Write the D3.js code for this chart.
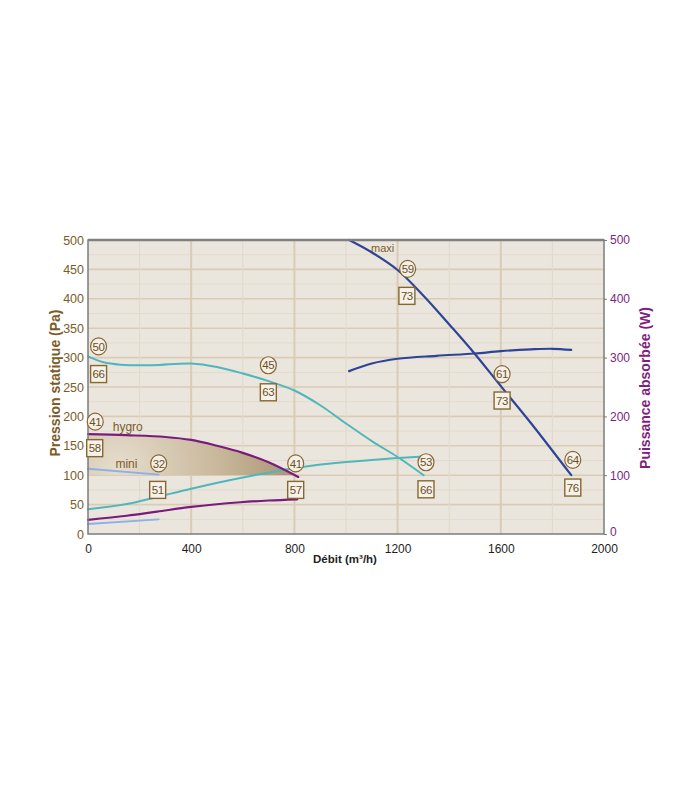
<!DOCTYPE html>
<html><head><meta charset="utf-8">
<script src="https://cdn.jsdelivr.net/npm/d3@7"></script>
<style>
html,body{margin:0;padding:0;background:#fff;}
svg text{font-family:"Liberation Sans",Arial,Helvetica,sans-serif;}
</style></head>
<body>
<div id="chart"></div>
<script>
// ---- Data ----
const debitTicks = [0, 400, 800, 1200, 1600, 2000];
const pressureTicks = [0, 50, 100, 150, 200, 250, 300, 350, 400, 450, 500];
const powerTicks = [0, 100, 200, 300, 400, 500];

// maxi
const maxiPressureX = [1012, 1096, 1200, 1303, 1407, 1498, 1601, 1718, 1873];
const maxiPressureY = [500, 480, 449, 404, 353, 307, 251, 188, 100];
const maxiPowerX = [1012, 1100, 1200, 1350, 1498, 1600, 1718, 1800, 1873];
const maxiPowerY = [277, 290, 298, 303, 307, 311, 314, 315, 313];

// medium (teal)
const tealPressureX = [0, 60, 125, 250, 400, 500, 600, 700, 800, 900, 1000, 1100, 1200, 1301];
const tealPressureY = [302, 292, 288, 287, 290, 284, 273, 260, 244, 219, 188, 158, 131, 100];
const tealPowerX = [0, 150, 268, 400, 600, 799, 941, 1100, 1301];
const tealPowerY = [42, 51, 63, 77, 96, 112, 120, 126, 132];

// hygro (purple)
const hygroPressureX = [0, 150, 300, 400, 500, 600, 700, 815];
const hygroPressureY = [170, 168, 165, 160, 150, 138, 122, 97];
const hygroPowerX = [0, 150, 268, 400, 591, 700, 811];
const hygroPowerY = [24, 31, 38, 46, 54, 57, 59];

// mini (light blue)
const miniPressureX = [0, 274];
const miniPressureY = [111, 101];
const miniPowerX = [0, 274];
const miniPowerY = [17, 25];

// annotations: value, kind, anchor (debit, pressure)
const annotValues = ["50", "66", "45", "63", "41", "58", "32", "51", "41", "57", "59", "73", "61", "73", "53", "66", "64", "76"];
const annotKinds  = ["c", "b", "c", "b", "c", "b", "c", "b", "c", "b", "c", "b", "c", "b", "c", "b", "c", "b"];
const annotX = [41, 41, 699, 699, 28, 26, 274, 270, 805, 805, 1239, 1236, 1605, 1605, 1310, 1310, 1879, 1879];
const annotY = [319, 272, 287, 241, 191, 146, 120, 75, 120, 75, 451, 405, 272, 227, 122, 76, 126, 79];
const curveNames = ["hygro", "mini", "maxi"];
const curveNameX = [154, 149, 1142];
const curveNameY = [182, 119, 486];

// ---- Layout ----
const W = 700, H = 800;
const L = 88, R = 604, T = 240, B = 534;
const svg = d3.select("#chart").append("svg").attr("width", W).attr("height", H);

const x = d3.scaleLinear().domain([0, 2000]).range([L, R]);
const y = d3.scaleLinear().domain([0, 500]).range([B, T]);
const yP = d3.scaleLinear().domain([0, 500]).range([B, T]);

const brown = "#7a5c28", purple = "#7e1f7e";

// background
svg.append("rect").attr("x", L).attr("y", T).attr("width", R - L).attr("height", B - T).attr("fill", "#ebe6dd");

// grid
const g = svg.append("g");
d3.range(25, 500, 25).forEach(v => {
  const major = v % 50 === 0;
  g.append("line").attr("x1", L).attr("x2", R).attr("y1", y(v)).attr("y2", y(v))
    .attr("stroke", major ? "#d9cbb6" : "#e3dacd").attr("stroke-width", major ? 1.6 : 1);
});
d3.range(200, 2000, 200).forEach(v => {
  const major = v % 400 === 0;
  g.append("line").attr("y1", T).attr("y2", B).attr("x1", x(v)).attr("x2", x(v))
    .attr("stroke", major ? "#d9cbb6" : "#e3dacd").attr("stroke-width", major ? 2 : 1.2);
});

// gradient fill for hygro zone
const defs = svg.append("defs");
const rg = defs.append("radialGradient").attr("id", "zone").attr("gradientUnits", "userSpaceOnUse")
  .attr("cx", x(120)).attr("cy", y(112)).attr("r", 230).attr("fx", x(120)).attr("fy", y(112));
rg.append("stop").attr("offset", 0).attr("stop-color", "#e6ddcd");
rg.append("stop").attr("offset", 0.45).attr("stop-color", "#c7b699");
rg.append("stop").attr("offset", 1).attr("stop-color", "#957b59");
defs.append("clipPath").attr("id", "above100").append("rect")
  .attr("x", L).attr("y", T).attr("width", R - L).attr("height", y(100) - T);

const zip = (xs, ys) => xs.map((v, i) => [v, ys[i]]);
const curve = d3.curveCatmullRom.alpha(0.5);
const hygroP = zip(hygroPressureX, hygroPressureY);
svg.append("path").attr("clip-path", "url(#above100)")
  .attr("d", d3.area().x(d => x(d[0])).y0(y(100)).y1(d => y(d[1])).curve(curve)(hygroP))
  .attr("fill", "url(#zone)");

// lines
const line = d3.line().x(d => x(d[0])).y(d => y(d[1])).curve(curve);
const lineP = d3.line().x(d => x(d[0])).y(d => yP(d[1])).curve(curve);
const series = [
  {d: zip(miniPressureX, miniPressureY), gen: line, c: "#8db0e6", w: 1.8},
  {d: zip(miniPowerX, miniPowerY), gen: lineP, c: "#8db0e6", w: 1.8},
  {d: zip(tealPressureX, tealPressureY), gen: line, c: "#4fb6bb", w: 2},
  {d: zip(tealPowerX, tealPowerY), gen: lineP, c: "#4fb6bb", w: 2},
  {d: hygroP, gen: line, c: "#7a1b7e", w: 2.2},
  {d: zip(hygroPowerX, hygroPowerY), gen: lineP, c: "#7a1b7e", w: 2.2},
  {d: zip(maxiPressureX, maxiPressureY), gen: line, c: "#2e4597", w: 2.2},
  {d: zip(maxiPowerX, maxiPowerY), gen: lineP, c: "#2e4597", w: 2.2},
];
series.forEach(s => svg.append("path").attr("d", s.gen(s.d)).attr("fill", "none")
  .attr("stroke", s.c).attr("stroke-width", s.w).attr("stroke-linecap", "round"));

// frame
svg.append("rect").attr("x", L).attr("y", T).attr("width", R - L).attr("height", B - T)
  .attr("fill", "none").attr("stroke", "#7c7c7c").attr("stroke-width", 1.5);
svg.append("line").attr("x1", L).attr("x2", R).attr("y1", T).attr("y2", T).attr("stroke", "#808080").attr("stroke-width", 2.5);

// annotations
annotValues.forEach((v, i) => {
  const cx = x(annotX[i]), cy = y(annotY[i]);
  const a = svg.append("g");
  if (annotKinds[i] === "c") {
    a.append("ellipse").attr("cx", cx).attr("cy", cy).attr("rx", 8).attr("ry", 8.5)
      .attr("fill", "#f4f0e9").attr("stroke", "#86682f").attr("stroke-width", 1.2);
  } else {
    a.append("rect").attr("x", cx - 8).attr("y", cy - 8.5).attr("width", 16).attr("height", 17)
      .attr("fill", "#f6f2eb").attr("stroke", "#86682f").attr("stroke-width", 1.4);
  }
  a.append("text").attr("x", cx).attr("y", cy + 4.2).attr("text-anchor", "middle")
    .attr("font-size", 11.5).attr("fill", "#6b5021").attr("letter-spacing", -0.4).text(v);
});
curveNames.forEach((n, i) => {
  svg.append("text").attr("x", x(curveNameX[i])).attr("y", y(curveNameY[i]) + 4)
    .attr("text-anchor", "middle").attr("font-size", n === "maxi" ? 11 : 12)
    .attr("fill", "#7a5c28").text(n);
});

// axes
const axB = svg.append("g").attr("transform", `translate(0,${B})`)
  .call(d3.axisBottom(x).tickValues(debitTicks).tickSize(0).tickPadding(10).tickFormat(d3.format("d")));
axB.select(".domain").remove();
axB.selectAll("text").attr("font-size", 12).attr("fill", "#1e1e1e").attr("font-family", "Liberation Sans, Arial, sans-serif");

const axL = svg.append("g").attr("transform", `translate(${L},0)`)
  .call(d3.axisLeft(y).tickValues(pressureTicks).tickSize(0).tickPadding(4).tickFormat(d3.format("d")));
axL.select(".domain").remove();
axL.selectAll("text").attr("font-size", 12.5).attr("fill", brown).attr("font-family", "Liberation Sans, Arial, sans-serif");

const axR = svg.append("g").attr("transform", `translate(${R},0)`)
  .call(d3.axisRight(yP).tickValues(powerTicks).tickSize(3).tickPadding(3).tickFormat(d3.format("d")));
axR.select(".domain").remove();
axR.selectAll("line").attr("stroke", "#7c7c7c");
axR.selectAll("text").attr("font-size", 12).attr("fill", purple).attr("font-family", "Liberation Sans, Arial, sans-serif");
axR.selectAll(".tick").filter(d => d === 0).select("text").attr("dy", "0.1em");

// titles
svg.append("text").attr("transform", `translate(60,383) rotate(-90)`)
  .attr("text-anchor", "middle").attr("font-size", 14).attr("font-weight", "bold").attr("fill", brown)
  .text("Pression statique (Pa)");
svg.append("text").attr("transform", `translate(650,388) rotate(-90)`)
  .attr("text-anchor", "middle").attr("font-size", 14).attr("font-weight", "bold").attr("fill", purple)
  .text("Puissance absorbée (W)");
svg.append("text").attr("x", 345).attr("y", 563).attr("text-anchor", "middle")
  .attr("font-size", 11.5).attr("font-weight", "bold").attr("fill", "#1e1e1e").text("Débit (m³/h)");
</script>
</body></html>
